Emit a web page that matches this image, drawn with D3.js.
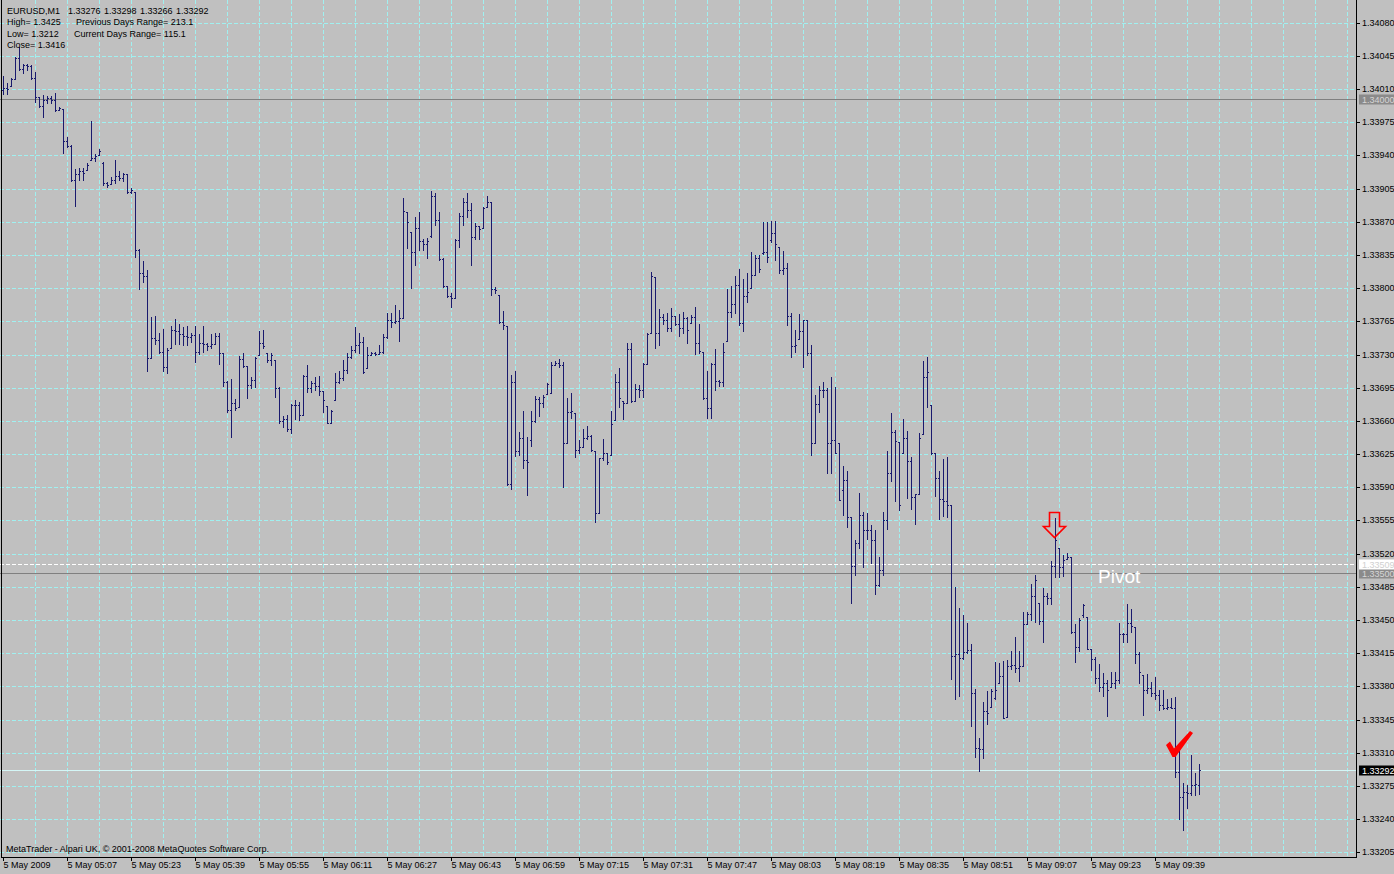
<!DOCTYPE html>
<html><head><meta charset="utf-8">
<script src="https://cdn.jsdelivr.net/npm/d3@7"></script>
<style>html,body{margin:0;padding:0;background:#c0c0c0;overflow:hidden}svg{display:block}</style>
</head><body><svg id="c" width="1394" height="874"></svg>
<script>
// ---- data (EURUSD M1, 5 May 2009, 04:51 .. 09:50) ----
const openP=[1.34009,1.34011,1.34013,1.34021,1.34043,1.34031,1.34035,1.34034,1.34022,1.34002,1.33992,1.33999,1.34001,1.33999,1.33988,1.33989,1.33955,1.33950,1.33914,1.33920,
1.33924,1.33925,1.33935,1.33937,1.33941,1.33932,1.33911,1.33910,1.33914,1.33918,1.33916,1.33920,1.33901,1.33901,1.33840,1.33816,1.33813,1.33726,1.33747,1.33745,
1.33733,1.33717,1.33737,1.33756,1.33755,1.33752,1.33750,1.33749,1.33751,1.33733,1.33742,1.33741,1.33739,1.33741,1.33750,1.33732,1.33701,1.33672,1.33679,1.33675,
1.33725,1.33718,1.33698,1.33703,1.33730,1.33742,1.33732,1.33724,1.33724,1.33695,1.33660,1.33662,1.33651,1.33677,1.33677,1.33666,1.33707,1.33695,1.33700,1.33697,
1.33692,1.33676,1.33658,1.33682,1.33701,1.33705,1.33714,1.33727,1.33735,1.33740,1.33743,1.33716,1.33730,1.33732,1.33731,1.33733,1.33749,1.33766,1.33764,1.33765,
1.33769,1.33880,1.33859,1.33838,1.33864,1.33850,1.33847,1.33855,1.33897,1.33872,1.33831,1.33802,1.33792,1.33790,1.33851,1.33876,1.33891,1.33882,1.33854,1.33866,
1.33864,1.33886,1.33891,1.33799,1.33793,1.33764,1.33760,1.33593,1.33701,1.33628,1.33642,1.33619,1.33640,1.33660,1.33683,1.33679,1.33688,1.33689,1.33719,1.33721,
1.33719,1.33637,1.33669,1.33668,1.33629,1.33633,1.33642,1.33644,1.33628,1.33563,1.33621,1.33626,1.33624,1.33661,1.33701,1.33681,1.33679,1.33736,1.33681,1.33694,
1.33693,1.33720,1.33753,1.33812,1.33753,1.33770,1.33766,1.33758,1.33771,1.33762,1.33758,1.33769,1.33763,1.33770,1.33742,1.33733,1.33684,1.33674,1.33720,1.33702,
1.33701,1.33744,1.33775,1.33783,1.33803,1.33763,1.33792,1.33800,1.33814,1.33832,1.33837,1.33838,1.33851,1.33858,1.33843,1.33819,1.33821,1.33771,1.33739,1.33746,
1.33755,1.33766,1.33732,1.33637,1.33678,1.33693,1.33693,1.33637,1.33640,1.33637,1.33587,1.33598,1.33559,1.33507,1.33531,1.33561,1.33545,1.33545,1.33534,1.33487,
1.33503,1.33556,1.33605,1.33648,1.33638,1.33626,1.33642,1.33618,1.33580,1.33583,1.33646,1.33706,1.33677,1.33626,1.33600,1.33578,1.33576,1.33571,1.33412,1.33414,
1.33410,1.33416,1.33418,1.33373,1.33315,1.33314,1.33354,1.33358,1.33368,1.33384,1.33391,1.33348,1.33402,1.33403,1.33399,1.33402,1.33446,1.33456,1.33475,1.33468,
1.33449,1.33475,1.33473,1.33507,1.33526,1.33506,1.33514,1.33516,1.33437,1.33422,1.33455,1.33453,1.33419,1.33409,1.33389,1.33379,1.33384,1.33379,1.33384,1.33387,
1.33435,1.33435,1.33447,1.33443,1.33414,1.33392,1.33376,1.33378,1.33373,1.33371,1.33360,1.33357,1.33358,1.33357,1.33290,1.33263,1.33269,1.33268,1.33276,1.33276];
const highP=[1.34024,1.34016,1.34022,1.34044,1.34054,1.34036,1.34036,1.34035,1.34028,1.34002,1.34004,1.34003,1.34003,1.34006,1.33991,1.33989,1.33959,1.33951,1.33926,1.33927,
1.33927,1.33932,1.33976,1.33942,1.33947,1.33933,1.33912,1.33917,1.33935,1.33924,1.33922,1.33920,1.33906,1.33901,1.33841,1.33829,1.33819,1.33770,1.33771,1.33753,
1.33757,1.33737,1.33760,1.33768,1.33762,1.33759,1.33760,1.33753,1.33760,1.33752,1.33760,1.33742,1.33752,1.33753,1.33753,1.33732,1.33702,1.33704,1.33683,1.33728,
1.33732,1.33718,1.33706,1.33727,1.33755,1.33756,1.33732,1.33732,1.33724,1.33696,1.33665,1.33666,1.33678,1.33682,1.33680,1.33708,1.33719,1.33702,1.33706,1.33707,
1.33692,1.33676,1.33672,1.33711,1.33713,1.33724,1.33732,1.33739,1.33759,1.33753,1.33749,1.33738,1.33733,1.33733,1.33740,1.33752,1.33774,1.33774,1.33782,1.33777,
1.33895,1.33880,1.33859,1.33875,1.33880,1.33852,1.33853,1.33903,1.33900,1.33880,1.33832,1.33802,1.33795,1.33852,1.33879,1.33895,1.33900,1.33890,1.33869,1.33866,
1.33886,1.33897,1.33891,1.33801,1.33793,1.33776,1.33760,1.33708,1.33713,1.33648,1.33670,1.33643,1.33670,1.33686,1.33685,1.33687,1.33700,1.33722,1.33723,1.33725,
1.33722,1.33684,1.33689,1.33668,1.33640,1.33651,1.33655,1.33645,1.33628,1.33621,1.33641,1.33626,1.33670,1.33710,1.33716,1.33681,1.33742,1.33742,1.33699,1.33698,
1.33721,1.33753,1.33817,1.33812,1.33778,1.33773,1.33774,1.33779,1.33771,1.33773,1.33775,1.33770,1.33772,1.33780,1.33762,1.33733,1.33713,1.33721,1.33736,1.33703,
1.33742,1.33799,1.33802,1.33813,1.33820,1.33810,1.33816,1.33838,1.33835,1.33835,1.33870,1.33870,1.33871,1.33871,1.33843,1.33839,1.33827,1.33774,1.33756,1.33773,
1.33766,1.33766,1.33740,1.33687,1.33697,1.33701,1.33695,1.33706,1.33696,1.33637,1.33612,1.33607,1.33559,1.33534,1.33584,1.33564,1.33563,1.33550,1.33545,1.33516,
1.33564,1.33628,1.33668,1.33650,1.33638,1.33662,1.33649,1.33622,1.33583,1.33647,1.33723,1.33727,1.33677,1.33626,1.33607,1.33620,1.33622,1.33571,1.33485,1.33463,
1.33455,1.33447,1.33425,1.33377,1.33326,1.33364,1.33375,1.33377,1.33406,1.33405,1.33407,1.33408,1.33417,1.33432,1.33417,1.33458,1.33458,1.33488,1.33497,1.33468,
1.33484,1.33479,1.33512,1.33558,1.33526,1.33519,1.33521,1.33516,1.33446,1.33452,1.33467,1.33453,1.33419,1.33411,1.33404,1.33394,1.33387,1.33395,1.33395,1.33447,
1.33436,1.33467,1.33462,1.33443,1.33416,1.33392,1.33393,1.33385,1.33390,1.33376,1.33376,1.33367,1.33368,1.33369,1.33319,1.33278,1.33276,1.33308,1.33289,1.33298];
const lowP=[1.34005,1.34005,1.34013,1.34021,1.34030,1.34027,1.34030,1.34021,1.33996,1.33991,1.33981,1.33995,1.33995,1.33987,1.33988,1.33943,1.33949,1.33913,1.33887,1.33914,
1.33914,1.33925,1.33935,1.33934,1.33941,1.33909,1.33907,1.33910,1.33911,1.33914,1.33913,1.33900,1.33900,1.33833,1.33799,1.33807,1.33713,1.33726,1.33741,1.33732,
1.33713,1.33711,1.33737,1.33741,1.33741,1.33740,1.33740,1.33743,1.33722,1.33731,1.33733,1.33735,1.33737,1.33741,1.33720,1.33697,1.33669,1.33643,1.33672,1.33675,
1.33717,1.33684,1.33695,1.33696,1.33730,1.33737,1.33722,1.33719,1.33685,1.33658,1.33654,1.33649,1.33647,1.33662,1.33661,1.33666,1.33691,1.33691,1.33693,1.33687,
1.33669,1.33658,1.33658,1.33682,1.33700,1.33703,1.33711,1.33726,1.33733,1.33732,1.33711,1.33716,1.33730,1.33730,1.33731,1.33732,1.33747,1.33759,1.33763,1.33744,
1.33769,1.33842,1.33800,1.33824,1.33840,1.33840,1.33832,1.33854,1.33867,1.33830,1.33801,1.33791,1.33780,1.33790,1.33843,1.33867,1.33875,1.33824,1.33852,1.33852,
1.33864,1.33886,1.33793,1.33795,1.33763,1.33757,1.33592,1.33588,1.33623,1.33624,1.33610,1.33582,1.33634,1.33659,1.33665,1.33675,1.33688,1.33689,1.33719,1.33717,
1.33590,1.33637,1.33663,1.33622,1.33626,1.33633,1.33641,1.33628,1.33553,1.33563,1.33619,1.33615,1.33624,1.33661,1.33675,1.33662,1.33679,1.33680,1.33681,1.33685,
1.33685,1.33720,1.33753,1.33737,1.33740,1.33762,1.33755,1.33755,1.33761,1.33750,1.33753,1.33742,1.33763,1.33731,1.33732,1.33683,1.33663,1.33663,1.33693,1.33697,
1.33697,1.33744,1.33770,1.33774,1.33761,1.33755,1.33785,1.33800,1.33814,1.33817,1.33836,1.33828,1.33849,1.33830,1.33816,1.33815,1.33761,1.33727,1.33733,1.33746,
1.33717,1.33730,1.33624,1.33637,1.33669,1.33685,1.33605,1.33605,1.33626,1.33577,1.33561,1.33548,1.33468,1.33497,1.33526,1.33506,1.33535,1.33510,1.33477,1.33486,
1.33497,1.33546,1.33597,1.33576,1.33566,1.33626,1.33579,1.33567,1.33551,1.33583,1.33646,1.33675,1.33625,1.33581,1.33557,1.33560,1.33559,1.33388,1.33367,1.33370,
1.33409,1.33415,1.33338,1.33306,1.33291,1.33304,1.33340,1.33358,1.33367,1.33384,1.33347,1.33348,1.33398,1.33395,1.33386,1.33402,1.33446,1.33450,1.33448,1.33446,
1.33427,1.33467,1.33467,1.33495,1.33495,1.33496,1.33514,1.33436,1.33406,1.33417,1.33453,1.33419,1.33397,1.33384,1.33375,1.33370,1.33349,1.33379,1.33378,1.33384,
1.33427,1.33427,1.33437,1.33405,1.33384,1.33350,1.33373,1.33370,1.33367,1.33355,1.33356,1.33356,1.33357,1.33284,1.33240,1.33229,1.33252,1.33265,1.33265,1.33266];
const closeP=[1.34011,1.34010,1.34021,1.34043,1.34031,1.34035,1.34034,1.34022,1.34002,1.33992,1.33999,1.34001,1.33999,1.33988,1.33990,1.33955,1.33950,1.33914,1.33920,1.33924,
1.33922,1.33930,1.33937,1.33939,1.33945,1.33911,1.33909,1.33914,1.33918,1.33916,1.33920,1.33901,1.33904,1.33840,1.33816,1.33813,1.33726,1.33747,1.33745,1.33733,
1.33717,1.33735,1.33756,1.33755,1.33752,1.33750,1.33749,1.33751,1.33733,1.33742,1.33741,1.33739,1.33741,1.33750,1.33732,1.33701,1.33672,1.33679,1.33674,1.33725,
1.33718,1.33698,1.33703,1.33726,1.33742,1.33739,1.33724,1.33730,1.33695,1.33660,1.33662,1.33651,1.33677,1.33677,1.33666,1.33707,1.33695,1.33700,1.33697,1.33692,
1.33682,1.33658,1.33670,1.33701,1.33705,1.33714,1.33727,1.33735,1.33740,1.33743,1.33712,1.33730,1.33732,1.33731,1.33733,1.33749,1.33766,1.33764,1.33765,1.33769,
1.33881,1.33870,1.33838,1.33864,1.33850,1.33847,1.33850,1.33897,1.33872,1.33831,1.33802,1.33792,1.33790,1.33851,1.33876,1.33891,1.33882,1.33854,1.33866,1.33862,
1.33885,1.33891,1.33799,1.33798,1.33764,1.33761,1.33593,1.33701,1.33628,1.33642,1.33619,1.33617,1.33660,1.33683,1.33679,1.33685,1.33699,1.33719,1.33721,1.33719,
1.33637,1.33669,1.33670,1.33629,1.33633,1.33642,1.33644,1.33629,1.33563,1.33621,1.33626,1.33617,1.33657,1.33701,1.33684,1.33679,1.33736,1.33681,1.33694,1.33693,
1.33720,1.33752,1.33813,1.33753,1.33770,1.33766,1.33758,1.33771,1.33762,1.33758,1.33769,1.33756,1.33770,1.33742,1.33734,1.33684,1.33674,1.33720,1.33702,1.33701,
1.33733,1.33775,1.33783,1.33803,1.33763,1.33792,1.33796,1.33814,1.33832,1.33820,1.33838,1.33833,1.33858,1.33847,1.33819,1.33821,1.33771,1.33739,1.33740,1.33755,
1.33766,1.33732,1.33637,1.33678,1.33693,1.33693,1.33637,1.33640,1.33626,1.33577,1.33598,1.33559,1.33507,1.33531,1.33561,1.33545,1.33545,1.33534,1.33487,1.33503,
1.33556,1.33605,1.33648,1.33639,1.33571,1.33642,1.33618,1.33580,1.33583,1.33642,1.33706,1.33712,1.33626,1.33600,1.33578,1.33576,1.33571,1.33412,1.33414,1.33410,
1.33416,1.33418,1.33373,1.33315,1.33314,1.33354,1.33352,1.33375,1.33376,1.33391,1.33347,1.33402,1.33403,1.33399,1.33402,1.33446,1.33456,1.33475,1.33492,1.33449,
1.33475,1.33473,1.33507,1.33534,1.33506,1.33513,1.33516,1.33437,1.33422,1.33450,1.33466,1.33419,1.33409,1.33389,1.33379,1.33384,1.33376,1.33384,1.33387,1.33435,
1.33435,1.33447,1.33444,1.33414,1.33395,1.33376,1.33378,1.33373,1.33371,1.33360,1.33357,1.33358,1.33357,1.33290,1.33263,1.33269,1.33268,1.33276,1.33277,1.33292];

const timeLabels=["5 May 2009","5 May 05:07","5 May 05:23","5 May 05:39","5 May 05:55","5 May 06:11","5 May 06:27","5 May 06:43","5 May 06:59","5 May 07:15",
"5 May 07:31","5 May 07:47","5 May 08:03","5 May 08:19","5 May 08:35","5 May 08:51","5 May 09:07","5 May 09:23","5 May 09:39"];
const labelEvery=16;
const priceTicks=[1.34080,1.34045,1.34010,1.33975,1.33940,1.33905,1.33870,1.33835,1.33800,1.33765,1.33730,1.33695,1.33660,
1.33625,1.33590,1.33555,1.33520,1.33485,1.33450,1.33415,1.33380,1.33345,1.33310,1.33275,1.33240,1.33205];
const roundLevels=[1.34000,1.33500];
const pivotLevel=1.33509;
const bidLevel=1.33292;
const headerLine1=["EURUSD,M1","1.33276","1.33298","1.33266","1.33292"];
const headerStats=[["High= 1.3425","Previous Days Range= 213.1"],["Low= 1.3212","Current Days Range= 115.1"],["Close= 1.3416",""]];
const copyright="MetaTrader - Alpari UK, \u00a9 2001-2008 MetaQuotes Software Corp.";

// ---- layout ----
const W=1394,H=874, plotR=1356, plotB=857;
const FONT='"Liberation Sans", Arial, sans-serif';
const svg=d3.select("#c");
const n=highP.length;
const x=d3.scaleLinear().domain([0,1]).range([3,7]);
const y=d3.scaleLinear().domain([1.33200,1.34104]).rangeRound([plotB,0]);

svg.append("rect").attr("width",W).attr("height",H).attr("fill","#c0c0c0");

const GRID="#a0f0f0";
const vg=d3.range(8, 340, 8).filter(i=>x(i)<plotR);
svg.append("g").selectAll("line").data(vg).join("line")
  .attr("x1",d=>x(d)+0.5).attr("x2",d=>x(d)+0.5).attr("y1",0).attr("y2",plotB)
  .attr("stroke",GRID).attr("stroke-dasharray","4,2");
svg.append("g").selectAll("line").data(priceTicks).join("line")
  .attr("x1",0).attr("x2",plotR).attr("y1",d=>y(d)+0.5).attr("y2",d=>y(d)+0.5)
  .attr("stroke",GRID).attr("stroke-dasharray","4,2");

svg.append("g").selectAll("line").data(roundLevels).join("line")
  .attr("x1",0).attr("x2",plotR).attr("y1",d=>y(d)+0.5).attr("y2",d=>y(d)+0.5)
  .attr("stroke","#808080");
svg.append("line").attr("x1",0).attr("x2",plotR).attr("y1",y(pivotLevel)+0.5).attr("y2",y(pivotLevel)+0.5)
  .attr("stroke","#ffffff").attr("stroke-dasharray","4,2");
svg.append("line").attr("x1",0).attr("x2",plotR).attr("y1",y(bidLevel)+0.5).attr("y2",y(bidLevel)+0.5)
  .attr("stroke","#d4f6f6");

const BAR="#1a1a6e";
const bars=svg.append("g").attr("fill",BAR);
const idx=d3.range(n);
bars.selectAll("rect.v").data(idx).join("rect").attr("class","v")
  .attr("x",i=>x(i)).attr("width",1)
  .attr("y",i=>y(highP[i])).attr("height",i=>Math.max(1,y(lowP[i])-y(highP[i])+1));
bars.selectAll("rect.o").data(idx).join("rect").attr("class","o")
  .attr("x",i=>x(i)-1).attr("width",1).attr("y",i=>y(openP[i])).attr("height",1);
bars.selectAll("rect.c").data(idx).join("rect").attr("class","c")
  .attr("x",i=>x(i)+1).attr("width",1).attr("y",i=>y(closeP[i])).attr("height",1);

svg.append("path")
  .attr("d","M1049.5,512.5 H1059.5 V526.5 H1065.5 L1054.5,537.5 L1043.5,526.5 H1049.5 Z")
  .attr("fill","none").attr("stroke","#ff0000").attr("stroke-width",1.6);
svg.append("path")
  .attr("d","M1166,745 L1170,741.5 L1174,748.5 L1190,731 L1193,733 L1175.5,757 L1172.5,757 Z")
  .attr("fill","#ff0000");
svg.append("text").attr("x",1098).attr("y",583).attr("fill","#ffffff")
  .attr("font-family",FONT).attr("font-size",19).text("Pivot");

const hx=[7,68,104,140,176];
const head=svg.append("g").attr("font-family",FONT).attr("font-size",9).attr("fill","#000");
head.selectAll("text.h1").data(headerLine1).join("text").attr("class","h1")
  .attr("x",(d,i)=>hx[i]).attr("y",14).text(d=>d);
const rowY=[25,36.5,48], col2X=[76,74,76];
headerStats.forEach((r,k)=>{
  head.append("text").attr("x",7).attr("y",rowY[k]).text(r[0]);
  if(r[1]) head.append("text").attr("x",col2X[k]).attr("y",rowY[k]).text(r[1]);
});
svg.append("text").attr("x",6).attr("y",852).attr("font-family",FONT).attr("font-size",9).text(copyright);

const yAxis=d3.axisRight(y).tickValues(priceTicks).tickFormat(d3.format(".5f")).tickSize(4).tickPadding(2);
const ga=svg.append("g").attr("transform",`translate(${plotR},0)`).call(yAxis);
ga.select(".domain").remove();
ga.selectAll("text").attr("font-family",FONT).attr("font-size",9).attr("fill","#000");
ga.selectAll("line").attr("stroke","#000");

const xTicks=timeLabels.map((d,k)=>k*labelEvery);
const xAxis=d3.axisBottom(x).tickValues(xTicks).tickFormat((d,k)=>timeLabels[k]).tickSize(4).tickPadding(1);
const gx=svg.append("g").attr("transform",`translate(0,${plotB})`).call(xAxis);
gx.select(".domain").remove();
gx.selectAll("text").attr("font-family",FONT).attr("font-size",9).attr("fill","#000")
  .attr("text-anchor","start").attr("dx",0);
gx.selectAll("line").attr("stroke","#000");

svg.append("line").attr("x1",1.5).attr("x2",1.5).attr("y1",0).attr("y2",plotB+0.5).attr("stroke","#000");
svg.append("line").attr("x1",plotR+0.5).attr("x2",plotR+0.5).attr("y1",0).attr("y2",plotB+1).attr("stroke","#000");
svg.append("line").attr("x1",1).attr("x2",plotR+1).attr("y1",plotB+0.5).attr("y2",plotB+0.5).attr("stroke","#000");

function tag(p, bg, fg){
  const yy=y(p);
  svg.append("rect").attr("x",plotR+3).attr("y",yy-4.5).attr("width",W-plotR-3).attr("height",10).attr("fill",bg);
  svg.append("text").attr("x",plotR+6).attr("y",yy+4).attr("font-family",FONT).attr("font-size",9)
    .attr("fill",fg).text(d3.format(".5f")(p));
}
roundLevels.forEach(p=>tag(p,"#8a8a8a","#d6d6d6"));
tag(pivotLevel,"#ffffff","#d0d0d0");
tag(bidLevel,"#000000","#ffffff");
</script></body></html>
